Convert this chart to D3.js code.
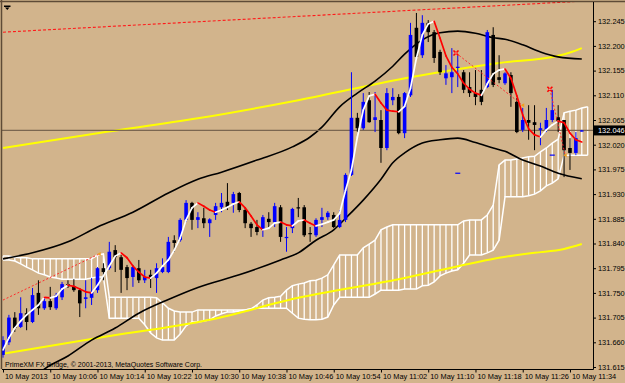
<!DOCTYPE html>
<html>
<head>
<meta charset="utf-8">
<script src="https://cdn.jsdelivr.net/npm/d3@7"></script>
<style>
  body { margin: 0; background: #d2b48c; }
  svg { display: block; font-family: "Liberation Sans", Arial, sans-serif; }
</style>
</head>
<body>
<div id="chart"></div>
<script>
// USDJPY M1 candles, 10 May 2013 09:58 .. 11:36
const open = [131.637,131.660,131.705,131.688,131.713,131.697,131.750,131.722,131.735,131.722,
  131.742,131.766,131.762,131.755,131.739,131.741,131.755,131.795,131.795,131.828,
  131.815,131.797,131.779,131.795,131.773,131.783,131.777,131.788,131.788,131.846,
  131.846,131.883,131.914,131.883,131.886,131.877,131.892,131.906,131.916,131.914,
  131.932,131.901,131.876,131.870,131.865,131.885,131.879,131.906,131.850,131.868,
  131.906,131.906,131.859,131.855,131.883,131.888,131.892,131.870,131.883,131.965,
  132.069,132.050,132.101,132.065,132.065,132.014,132.101,132.107,132.041,132.110,
  132.233,132.183,132.242,132.225,132.189,132.141,132.143,132.160,132.152,132.125,
  132.114,132.120,132.125,132.220,132.143,132.132,132.147,132.098,132.047,132.065,
  132.061,132.047,132.047,132.065,132.070,132.065,132.014,132.005,132.045]
const high = [131.671,131.710,131.715,131.742,131.722,131.759,131.773,131.742,131.761,131.750,
  131.770,131.773,131.775,131.759,131.773,131.777,131.797,131.804,131.843,131.837,
  131.819,131.801,131.801,131.810,131.792,131.792,131.804,131.813,131.852,131.855,
  131.886,131.919,131.916,131.897,131.905,131.886,131.914,131.932,131.950,131.934,
  131.934,131.905,131.879,131.883,131.892,131.897,131.914,131.910,131.870,131.905,
  131.923,131.910,131.870,131.886,131.905,131.899,131.897,131.901,131.968,132.152,
  132.078,132.114,132.116,132.116,132.083,132.123,132.123,132.112,132.116,132.242,
  132.260,132.256,132.247,132.229,132.193,132.165,132.196,132.183,132.156,132.152,
  132.156,132.156,132.229,132.234,132.183,132.152,132.152,132.105,132.087,132.092,
  132.092,132.060,132.087,132.120,132.092,132.065,132.032,132.043,132.047]
const low = [131.632,131.655,131.679,131.686,131.682,131.695,131.710,131.719,131.719,131.719,
  131.737,131.759,131.752,131.706,131.722,131.728,131.750,131.773,131.792,131.788,
  131.750,131.755,131.761,131.768,131.768,131.759,131.750,131.786,131.786,131.825,
  131.843,131.879,131.865,131.868,131.868,131.852,131.883,131.897,131.901,131.896,
  131.897,131.868,131.852,131.855,131.852,131.868,131.870,131.843,131.825,131.859,
  131.888,131.852,131.843,131.852,131.870,131.883,131.868,131.868,131.879,131.963,
  132.043,132.047,132.060,132.043,131.987,132.010,132.092,132.039,132.032,132.107,
  132.178,132.178,132.207,132.169,132.147,132.129,132.114,132.125,132.114,132.107,
  132.092,132.092,132.123,132.125,132.132,132.129,132.089,132.041,132.043,132.029,
  132.010,132.019,132.043,132.061,132.043,131.961,131.974,132.001,132.044]
const close = [131.664,131.705,131.686,131.713,131.697,131.746,131.722,131.735,131.724,131.746,
  131.766,131.762,131.755,131.731,131.742,131.752,131.795,131.788,131.825,131.815,
  131.792,131.777,131.797,131.773,131.779,131.777,131.795,131.797,131.843,131.841,
  131.883,131.914,131.883,131.888,131.877,131.884,131.908,131.914,131.906,131.930,
  131.901,131.877,131.868,131.861,131.888,131.879,131.908,131.852,131.852,131.903,
  131.905,131.855,131.857,131.883,131.888,131.896,131.870,131.883,131.965,132.069,
  132.050,132.098,132.061,132.070,132.014,132.114,132.107,132.041,132.114,132.220,
  132.180,132.242,132.225,132.178,132.152,132.150,132.152,132.162,132.120,132.114,
  132.107,132.098,132.225,132.129,132.138,132.150,132.114,132.043,132.065,132.060,
  132.056,132.050,132.065,132.083,132.061,132.010,132.005,132.032,132.046]

// fast moving average (white when rising, red when falling)
const fastMa = [131.646,131.668,131.686,131.699,131.710,131.719,131.728,131.742,131.741,131.744,
  131.757,131.764,131.762,131.757,131.752,131.750,131.764,131.781,131.799,131.817,
  131.823,131.814,131.799,131.788,131.779,131.777,131.786,131.799,131.810,131.828,
  131.850,131.883,131.905,131.914,131.908,131.901,131.897,131.901,131.906,131.912,
  131.916,131.905,131.890,131.874,131.865,131.868,131.877,131.879,131.874,131.872,
  131.881,131.883,131.877,131.872,131.875,131.879,131.883,131.895,131.937,131.974,
  132.034,132.083,132.109,132.112,132.096,132.083,132.081,132.080,132.090,132.123,
  132.178,132.220,132.240,132.245,132.214,132.182,132.161,132.149,132.132,132.121,
  132.114,132.110,132.131,132.149,132.156,132.158,132.141,132.109,132.074,132.049,
  132.038,132.034,132.047,132.056,132.063,132.060,132.041,132.029,132.025]

// ichimoku cloud spans
const senkouA = [131.817,131.817,131.815,131.814,131.814,131.812,131.812,131.812,131.812,131.812,
  131.812,131.812,131.812,131.812,131.812,131.812,131.819,131.821,131.742,131.742,
  131.742,131.742,131.742,131.742,131.742,131.742,131.741,131.732,131.722,131.717,
  131.715,131.715,131.715,131.719,131.719,131.719,131.719,131.719,131.719,131.719,
  131.719,131.719,131.721,131.728,131.737,131.741,131.742,131.744,131.755,131.763,
  131.766,131.768,131.772,131.773,131.777,131.783,131.801,131.819,131.819,131.819,
  131.819,131.832,131.839,131.846,131.865,131.870,131.874,131.874,131.874,131.874,
  131.874,131.874,131.874,131.874,131.874,131.874,131.874,131.874,131.881,131.883,
  131.883,131.883,131.892,131.910,131.983,131.992,131.992,131.994,131.996,131.998,
  131.999,132.007,132.014,132.023,132.030,132.078,132.081,132.083,132.087,132.089]
const senkouB = [131.810,131.810,131.808,131.803,131.797,131.792,131.786,131.783,131.779,131.777,
  131.775,131.775,131.775,131.775,131.775,131.777,131.779,131.779,131.704,131.704,
  131.704,131.704,131.704,131.704,131.692,131.677,131.668,131.664,131.664,131.664,
  131.675,131.690,131.697,131.697,131.699,131.701,131.708,131.712,131.715,131.715,
  131.717,131.719,131.721,131.722,131.722,131.722,131.722,131.722,131.722,131.713,
  131.704,131.702,131.701,131.701,131.702,131.706,131.728,131.742,131.742,131.742,
  131.742,131.742,131.742,131.748,131.755,131.755,131.755,131.755,131.757,131.757,
  131.757,131.763,131.764,131.770,131.781,131.786,131.790,131.792,131.804,131.819,
  131.819,131.819,131.823,131.828,131.846,131.925,131.925,131.925,131.925,131.927,
  131.930,131.936,131.945,131.950,131.958,132.001,132.001,132.001,132.001,132.001]

// bands and slow averages, read as [bar, price]
const upperBand = [[0,131.812],[5,131.823],[11,131.843],[16,131.870],[22,131.897],[28,131.932],
  [33,131.957],[37,131.970],[43,131.992],[49,132.016],[52,132.034],[54,132.052],[57,132.089],
  [60,132.114],[63,132.136],[66,132.163],[68,132.185],[71,132.211],[74,132.224],[77,132.227],
  [80,132.223],[83,132.215],[85,132.212],[88,132.202],[91,132.189],[94,132.180],[98,132.176]]
const lowerBand = [[6,131.602],[7,131.611],[11,131.635],[15,131.664],[19,131.686],[23,131.713],
  [28,131.738],[33,131.760],[40,131.783],[47,131.810],[50,131.823],[53,131.846],[56,131.865],
  [58,131.886],[61,131.919],[64,131.957],[66,131.987],[68,132.005],[71,132.023],[74,132.029],
  [77,132.032],[80,132.024],[83,132.014],[85,132.008],[88,131.992],[91,131.981],[94,131.968],[98,131.958]]
const slowMaHigh = [[0,132.014],[16,132.041],[33,132.068],[50,132.101],[69,132.143],[84,132.169],
  [94,132.182],[96,132.188],[98,132.196]]
const slowMaLow = [[0,131.639],[16,131.668],[35,131.701],[50,131.741],[67,131.775],[79,131.803],
  [84,131.814],[90,131.823],[95,131.830],[98,131.839]]

// drawn objects
const topTrend = [[0,132.225],[99,132.282]]
const dottedLegs = [
  [[0,131.737],[16.3,131.821]],
  [[76.7,132.187],[88,132.092]],
  [[92.6,132.121],[95.2,132.001]]
]
const crossMarks = [[76.7,132.187],[92.6,132.121]]
const arrowMarks = [[16.3,131.821],[88,132.092],[95.2,132.001]]
const blueDashes = [[77,131.968],[93,132.001]]

const bidPrice = 132.046
const priceTicks = [132.245,132.200,132.155,132.110,132.065,132.020,131.975,131.930,
  131.885,131.840,131.795,131.750,131.705,131.660,131.615]
const timeLabels = ["10 May 2013","10 May 10:06","10 May 10:14","10 May 10:22","10 May 10:30",
  "10 May 10:38","10 May 10:46","10 May 10:54","10 May 11:02","10 May 11:10",
  "10 May 11:18","10 May 11:26","10 May 11:34"]
const barsPerLabel = 8

// Create SVG
const outerWidth = 625
const outerHeight = 383
const plot = {left: 2, top: 2, right: 593, bottom: 369}

const svg = d3.select("#chart")
  .append("svg")
  .attr("width", outerWidth)
  .attr("height", outerHeight)

svg.append("rect")
  .attr("width", outerWidth)
  .attr("height", outerHeight)
  .attr("fill", "#d2b48c")

svg.append("clipPath")
  .attr("id", "plot-clip")
  .append("rect")
  .attr("x", plot.left)
  .attr("y", plot.top)
  .attr("width", plot.right - plot.left)
  .attr("height", plot.bottom - plot.top)

// Scales
const xScale = d3.scaleLinear()
  .domain([0, 98])
  .range([3, 3 + 98 * 5.906])

const yScale = d3.scaleLinear()
  .domain([131.615, 132.245])
  .range([367, 21.2])

const g = svg.append("g").attr("clip-path", "url(#plot-clip)")

const pointLine = d3.line()
  .x(d => xScale(d[0]))
  .y(d => yScale(d[1]))

const smoothLine = d3.line()
  .x(d => xScale(d[0]))
  .y(d => yScale(d[1]))
  .curve(d3.curveMonotoneX)

// Top red dotted trendline
g.append("path")
  .datum(topTrend)
  .attr("d", pointLine)
  .attr("fill", "none")
  .attr("stroke", "#ff1a1a")
  .attr("stroke-width", 1.1)
  .attr("stroke-dasharray", "3,2")

// Ichimoku cloud: hatch + outline
const cloudBars = d3.range(senkouA.length)
g.append("g")
  .selectAll("line")
  .data(cloudBars)
  .join("line")
  .attr("x1", d => xScale(d))
  .attr("x2", d => xScale(d))
  .attr("y1", d => yScale(senkouA[d]))
  .attr("y2", d => yScale(senkouB[d]))
  .attr("stroke", "#ffffff")
  .attr("stroke-width", 1.3)

const spanLine = arr => d3.line()
  .x(d => xScale(d))
  .y(d => yScale(arr[d]))

;[senkouA, senkouB].forEach(arr => {
  g.append("path")
    .datum(cloudBars)
    .attr("d", spanLine(arr))
    .attr("fill", "none")
    .attr("stroke", "#ffffff")
    .attr("stroke-width", 1.5)
})

// Yellow slow averages
;[slowMaHigh, slowMaLow].forEach(pts => {
  g.append("path")
    .datum(pts)
    .attr("d", smoothLine)
    .attr("fill", "none")
    .attr("stroke", "#ffff00")
    .attr("stroke-width", 2)
})

// Black bands
;[upperBand, lowerBand].forEach(pts => {
  g.append("path")
    .datum(pts)
    .attr("d", smoothLine)
    .attr("fill", "none")
    .attr("stroke", "#000000")
    .attr("stroke-width", 1.6)
})

// Bid line
g.append("line")
  .attr("x1", plot.left)
  .attr("x2", plot.right)
  .attr("y1", yScale(bidPrice))
  .attr("y2", yScale(bidPrice))
  .attr("stroke", "#7a6650")
  .attr("stroke-width", 1.2)

// Candles
const bars = d3.range(open.length)
const candleColor = i => close[i] >= open[i] ? "#0000ff" : "#000000"

g.append("g")
  .selectAll("line")
  .data(bars)
  .join("line")
  .attr("x1", i => xScale(i))
  .attr("x2", i => xScale(i))
  .attr("y1", i => yScale(high[i]))
  .attr("y2", i => yScale(low[i]))
  .attr("stroke", candleColor)
  .attr("stroke-width", 1)

g.append("g")
  .selectAll("rect")
  .data(bars)
  .join("rect")
  .attr("x", i => xScale(i) - 1.8)
  .attr("width", 3.6)
  .attr("y", i => yScale(Math.max(open[i], close[i])))
  .attr("height", i => Math.max(1.2, Math.abs(yScale(open[i]) - yScale(close[i]))))
  .attr("fill", candleColor)

// Fast MA, coloured by slope
g.append("g")
  .selectAll("line")
  .data(bars.slice(0, -1))
  .join("line")
  .attr("x1", i => xScale(i))
  .attr("x2", i => xScale(i + 1))
  .attr("y1", i => yScale(fastMa[i]))
  .attr("y2", i => yScale(fastMa[i + 1]))
  .attr("stroke", i => fastMa[i + 1] < fastMa[i] ? "#ff0000" : "#ffffff")
  .attr("stroke-width", 1.7)
  .attr("stroke-linecap", "round")

// Dotted legs and markers
g.append("g")
  .selectAll("path")
  .data(dottedLegs)
  .join("path")
  .attr("d", pointLine)
  .attr("fill", "none")
  .attr("stroke", "#ff2a2a")
  .attr("stroke-width", 1)
  .attr("stroke-dasharray", "2,2")

g.append("g")
  .selectAll("path")
  .data(crossMarks)
  .join("path")
  .attr("transform", d => `translate(${xScale(d[0])},${yScale(d[1])})`)
  .attr("d", "M-2.5,-2.5L2.5,2.5M-2.5,2.5L2.5,-2.5")
  .attr("stroke", "#ff0000")
  .attr("stroke-width", 1.6)

g.append("g")
  .selectAll("circle")
  .data(crossMarks)
  .join("circle")
  .attr("cx", d => xScale(d[0]))
  .attr("cy", d => yScale(d[1]))
  .attr("r", 0.8)
  .attr("fill", "#ffd0d0")

g.append("g")
  .selectAll("path")
  .data(arrowMarks)
  .join("path")
  .attr("transform", d => `translate(${xScale(d[0])},${yScale(d[1])})`)
  .attr("d", "M-2,0L1.5,-2L1.5,2Z")
  .attr("fill", "#f0a020")

g.append("g")
  .selectAll("line")
  .data(blueDashes)
  .join("line")
  .attr("x1", d => xScale(d[0]) - 2.5)
  .attr("x2", d => xScale(d[0]) + 2.5)
  .attr("y1", d => yScale(d[1]))
  .attr("y2", d => yScale(d[1]))
  .attr("stroke", "#0000ff")
  .attr("stroke-width", 1.2)

// Frame
svg.append("path")
  .attr("d", `M0,1.5H${outerWidth}M1.5,0V${plot.bottom}`)
  .attr("stroke", "#5e4b37")
  .attr("stroke-width", 1.5)
  .attr("fill", "none")

// Price axis
const yAxis = d3.axisRight(yScale)
  .tickValues(priceTicks)
  .tickSize(3)
  .tickPadding(2)
  .tickFormat(d3.format(".3f"))

const yAxisG = svg.append("g")
  .attr("transform", `translate(${plot.right},0)`)
  .call(yAxis)
yAxisG.select(".domain").remove()
yAxisG.selectAll("text")
  .attr("font-size", "7.4px")
  .attr("font-family", "Liberation Sans, Arial, sans-serif")
  .attr("fill", "#000")
yAxisG.selectAll("line").attr("stroke", "#000")

// Time axis
const xAxis = d3.axisBottom(xScale)
  .tickValues(timeLabels.map((d, i) => i * barsPerLabel))
  .tickSize(3)
  .tickFormat((d, i) => timeLabels[i])

const xAxisG = svg.append("g")
  .attr("transform", `translate(0,${plot.bottom + 0.5})`)
  .call(xAxis)
xAxisG.select(".domain").remove()
xAxisG.selectAll("text")
  .attr("text-anchor", "start")
  .attr("x", 1.5)
  .attr("y", 4)
  .attr("font-size", "7.4px")
  .attr("font-family", "Liberation Sans, Arial, sans-serif")
  .attr("fill", "#000")
xAxisG.selectAll("line").attr("stroke", "#000")

svg.append("path")
  .attr("d", `M${plot.left},${plot.bottom + 0.5}H${plot.right + 0.5}M${plot.right + 0.5},${plot.top}V${plot.bottom + 0.5}`)
  .attr("stroke", "#000")
  .attr("stroke-width", 1)
  .attr("fill", "none")

// Bid label
svg.append("rect")
  .attr("x", plot.right + 1)
  .attr("y", yScale(bidPrice) - 5)
  .attr("width", outerWidth - plot.right - 1)
  .attr("height", 10)
  .attr("fill", "#000")
svg.append("text")
  .attr("x", plot.right + 5)
  .attr("y", yScale(bidPrice) + 2.7)
  .attr("font-size", "7.4px")
  .attr("fill", "#fff")
  .text(d3.format(".3f")(bidPrice))

// Copyright text and corner icon
svg.append("text")
  .attr("x", 5)
  .attr("y", 366.5)
  .attr("font-size", "7px")
  .attr("fill", "#000")
  .text("PrimeXM FX Bridge, © 2001-2013, MetaQuotes Software Corp.")

svg.append("path")
  .attr("d", "M4,5.5H10.5V7H4ZM5,7.5H9.5L7.25,10Z")
  .attr("fill", "#000")
</script>
</body>
</html>
